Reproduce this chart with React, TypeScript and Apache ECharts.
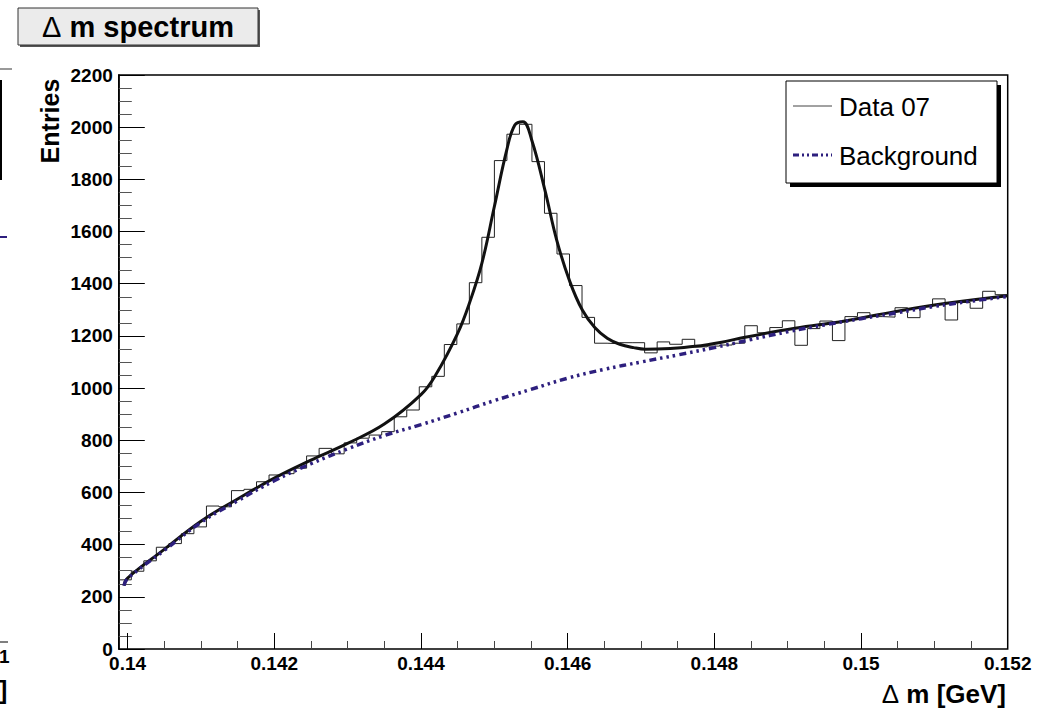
import React, { useEffect, useRef } from "react";
import * as echarts from "echarts";

// ---- data ----
const X_MIN = 0.13988;
const X_MAX = 0.152;
const Y_MIN = 0;
const Y_MAX = 2200;

// 71 bins of "Data 07"
const histCounts = [
  265, 298, 338, 390, 404, 442, 468, 548, 545, 607,
  612, 641, 667, 672, 693, 740, 769, 748, 790, 808,
  820, 833, 890, 916, 1005, 1045, 1167, 1246, 1404, 1578,
  1872, 1973, 2011, 1868, 1670, 1514, 1393, 1271, 1172, 1170,
  1174, 1174, 1135, 1177, 1168, 1187, 1158, 1161, 1165, 1172,
  1239, 1212, 1232, 1258, 1164, 1228, 1257, 1182, 1274, 1289,
  1274, 1272, 1308, 1270, 1312, 1342, 1261, 1328, 1306, 1371,
  1358,
];

// total fit (signal + background)
const fitX = [
  0.13995, 0.14, 0.1405, 0.141, 0.1415, 0.142, 0.1425, 0.143, 0.1435, 0.144,
  0.1442, 0.1445, 0.14466, 0.14483, 0.145, 0.14517, 0.14528, 0.14539, 0.14551, 0.14569,
  0.14585, 0.14603, 0.1462, 0.14637, 0.14654, 0.14671, 0.1469, 0.14706, 0.1474, 0.14774,
  0.1481, 0.14842, 0.1491, 0.14978, 0.15046, 0.15114, 0.152,
];
const fitY = [
  243, 272, 382, 490, 575, 655, 724, 788, 862, 975,
  1050, 1210, 1325, 1478, 1695, 1913, 2008, 2021, 1951, 1759,
  1568, 1408, 1299, 1232, 1191, 1168, 1155, 1149, 1152, 1160,
  1176, 1195, 1229, 1257, 1293, 1324, 1354,
];

// background component
const bgX = [
  0.13995, 0.14, 0.1405, 0.141, 0.1415, 0.142, 0.1425, 0.143, 0.1435, 0.144,
  0.1445, 0.145, 0.1455, 0.146, 0.1465, 0.147, 0.1475, 0.148, 0.1485, 0.149,
  0.1495, 0.15, 0.1505, 0.151, 0.1515, 0.152,
];
const bgY = [
  243, 270, 378, 485, 568, 645, 710, 767, 818, 860,
  905, 952, 995, 1038, 1072, 1100, 1127, 1155, 1186, 1216,
  1242, 1266, 1289, 1313, 1333, 1351,
];

const xTickStep = 0.002;
const yTickStep = 200;

const FONT = "Liberation Sans, Arial, Helvetica, sans-serif";
const PURPLE = "#2d1f7e";

export default function App() {
  const ref = useRef<HTMLDivElement>(null);

  useEffect(() => {
    if (!ref.current) return;
    const chart = echarts.init(ref.current, null, { renderer: "svg" });

    const binW = (X_MAX - X_MIN) / histCounts.length;
    const histData: number[][] = [];
    histCounts.forEach((c, i) => {
      histData.push([X_MIN + i * binW, c]);
      histData.push([X_MIN + (i + 1) * binW, c]);
    });
    const fitData = fitX.map((x, i) => [x, fitY[i]]);
    const bgData = bgX.map((x, i) => [x, bgY[i]]);

    const gridTop = 75;
    const gridBottom = 62;
    const gridRight = 45.3;

    chart.setOption({
      animation: false,
      backgroundColor: "#ffffff",
      grid: [
        {
          left: 118.8,
          right: gridRight,
          top: gridTop,
          bottom: gridBottom,
          show: true,
          borderColor: "#000",
          borderWidth: 1.5,
          backgroundColor: "transparent",
          outerBoundsMode: "none",
        },
        {
          left: 127.6,
          right: gridRight,
          top: gridTop,
          bottom: gridBottom,
          show: false,
          outerBoundsMode: "none",
        },
      ],
      xAxis: [
        {
          type: "value",
          gridIndex: 0,
          min: X_MIN,
          max: X_MAX,
          show: false,
        },
        {
          type: "value",
          gridIndex: 1,
          min: 0.14,
          max: X_MAX,
          interval: xTickStep,
          axisLine: { show: false },
          splitLine: { show: false },
          axisTick: { show: true, inside: true, length: 16, lineStyle: { color: "#000", width: 1 } },
          minorTick: { show: true, splitNumber: 4, length: 8, lineStyle: { color: "#444", width: 1 } },
          axisLabel: {
            show: true,
            margin: 5,
            fontSize: 19,
            fontWeight: "bold",
            fontFamily: FONT,
            color: "#000",
            showMinLabel: true,
            showMaxLabel: true,
            hideOverlap: false,
            formatter: (v: number) => String(parseFloat(v.toFixed(3))),
          },
        },
      ],
      yAxis: [
        {
          type: "value",
          gridIndex: 0,
          min: Y_MIN,
          max: Y_MAX,
          interval: yTickStep,
          axisLine: { show: true, lineStyle: { color: "#000", width: 1.5 } },
          splitLine: { show: false },
          axisTick: { show: true, inside: true, length: 26, lineStyle: { color: "#000", width: 1 } },
          minorTick: { show: true, splitNumber: 4, length: 13, lineStyle: { color: "#555", width: 1 } },
          axisLabel: {
            show: true,
            margin: 6,
            fontSize: 19,
            fontWeight: "bold",
            fontFamily: FONT,
            color: "#000",
            showMinLabel: true,
            showMaxLabel: true,
            formatter: (v: number) => String(Math.round(v)),
          },
        },
        {
          type: "value",
          gridIndex: 1,
          min: 0,
          max: 1,
          show: false,
        },
      ],
      series: [
        {
          name: "Data 07",
          type: "line",
          xAxisIndex: 0,
          yAxisIndex: 0,
          data: histData,
          showSymbol: false,
          symbol: "none",
          lineStyle: { color: "#222", width: 1 },
          z: 2,
          silent: true,
        },
        {
          name: "Fit",
          type: "line",
          xAxisIndex: 0,
          yAxisIndex: 0,
          data: fitData,
          showSymbol: false,
          symbol: "none",
          smooth: 0.4,
          lineStyle: { color: "#111", width: 3 },
          z: 3,
          silent: true,
        },
        {
          name: "Background",
          type: "line",
          xAxisIndex: 0,
          yAxisIndex: 0,
          data: bgData,
          showSymbol: false,
          symbol: "none",
          smooth: 0.4,
          lineStyle: { color: PURPLE, width: 3.5, type: [7, 4, 2.5, 4, 2.5, 4, 2.5, 4] },
          z: 4,
          silent: true,
        },
      ],
      graphic: [
        // title box
        { type: "rect", shape: { x: 20, y: 10, width: 240, height: 37 }, style: { fill: "#555" }, z: 10 },
        { type: "rect", shape: { x: 18, y: 8, width: 240, height: 37 }, style: { fill: "#ebebeb", stroke: "#333", lineWidth: 1 }, z: 11 },
        {
          type: "text",
          x: 138,
          y: 27,
          z: 12,
          style: {
            text: "{d|Δ} m spectrum",
            fill: "#000",
            fontSize: 29,
            fontWeight: "bold",
            fontFamily: FONT,
            align: "center",
            verticalAlign: "middle",
            rich: { d: { fontSize: 29, fontWeight: "normal", fontFamily: FONT, fill: "#000" } },
          },
        },
        // legend
        { type: "rect", shape: { x: 790, y: 85, width: 211, height: 102 }, style: { fill: "#000" }, z: 10 },
        { type: "rect", shape: { x: 786, y: 81, width: 211, height: 102 }, style: { fill: "#fff", stroke: "#000", lineWidth: 1 }, z: 11 },
        { type: "line", shape: { x1: 793, y1: 106, x2: 832, y2: 106 }, style: { stroke: "#444", lineWidth: 1 }, z: 12 },
        {
          type: "text", x: 839, y: 107, z: 12,
          style: { text: "Data 07", fill: "#000", fontSize: 26, fontFamily: FONT, align: "left", verticalAlign: "middle" },
        },
        { type: "line", shape: { x1: 793, y1: 155, x2: 832, y2: 155 }, style: { stroke: PURPLE, lineWidth: 3, lineDash: [6, 3, 2, 3, 2, 3] }, z: 12 },
        {
          type: "text", x: 839, y: 156, z: 12,
          style: { text: "Background", fill: "#000", fontSize: 26, fontFamily: FONT, align: "left", verticalAlign: "middle" },
        },
        // axis titles
        {
          type: "text", x: 50, y: 121, rotation: Math.PI / 2, z: 12,
          style: { text: "Entries", fill: "#000", fontSize: 25, fontWeight: "bold", fontFamily: FONT, align: "center", verticalAlign: "middle" },
        },
        {
          type: "text", x: 1006, y: 694, z: 12,
          style: {
            text: "{d|Δ} m [GeV]",
            fill: "#000",
            fontSize: 26,
            fontWeight: "bold",
            fontFamily: FONT,
            align: "right",
            verticalAlign: "middle",
            rich: { d: { fontSize: 26, fontWeight: "normal", fontFamily: FONT, fill: "#000" } },
          },
        },
        // fragments of the neighbouring pad at the left edge
        { type: "line", shape: { x1: 0, y1: 69, x2: 12, y2: 69 }, style: { stroke: "#777", lineWidth: 1.5 }, z: 10 },
        { type: "line", shape: { x1: 1, y1: 80, x2: 1, y2: 180 }, style: { stroke: "#000", lineWidth: 2 }, z: 10 },
        { type: "line", shape: { x1: 0, y1: 237, x2: 7, y2: 237 }, style: { stroke: PURPLE, lineWidth: 2 }, z: 10 },
        { type: "line", shape: { x1: 0, y1: 642, x2: 8, y2: 642 }, style: { stroke: "#555", lineWidth: 1.5 }, z: 10 },
        {
          type: "text", x: -1, y: 656, z: 10,
          style: { text: "1", fill: "#000", fontSize: 19, fontWeight: "bold", fontFamily: FONT, align: "left", verticalAlign: "middle" },
        },
        {
          type: "text", x: -1, y: 690, z: 10,
          style: { text: "]", fill: "#000", fontSize: 25, fontWeight: "bold", fontFamily: FONT, align: "left", verticalAlign: "middle" },
        },
      ],
    });

    return () => {
      chart.dispose();
    };
  }, []);

  return (
    <div
      ref={ref}
      style={{ position: "fixed", left: 0, top: 0, width: 1053, height: 711, background: "#fff" }}
    />
  );
}
